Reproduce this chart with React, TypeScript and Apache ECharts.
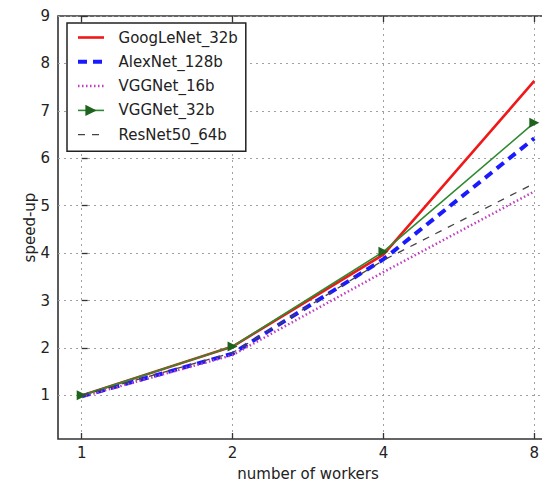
import React, { useEffect, useRef } from 'react';
import * as echarts from 'echarts';

const workers = [1, 2, 4, 8];
const yTicks = [1, 2, 3, 4, 5, 6, 7, 8, 9];
const seriesNames = ['GoogLeNet_32b', 'AlexNet_128b', 'VGGNet_16b', 'VGGNet_32b', 'ResNet50_64b'];
const googlenet32 = [1.0, 2.03, 3.97, 7.63];
const alexnet128 = [0.98, 1.88, 3.87, 6.42];
const vggnet16 = [0.97, 1.85, 3.6, 5.3];
const vggnet32 = [1.0, 2.03, 4.03, 6.75];
const resnet50 = [1.0, 1.9, 3.85, 5.47];

const FONT = 'DejaVu Sans';

export default function App() {
  const ref = useRef<HTMLDivElement>(null);
  useEffect(() => {
    if (!ref.current) return;
    const chart = echarts.init(ref.current, undefined, { renderer: 'svg' });
    const xs = workers.map((w) => Math.log2(w));
    const pts = (vals: number[]) => vals.map((v, i) => [xs[i], v]);
    const gridLine = { show: true, lineStyle: { color: '#a0a0a0', width: 1, type: [2, 4] as any } };
    const tick = { show: true, inside: true, length: 6, lineStyle: { color: '#333', width: 1.3 } };
    const xCommon = {
      type: 'value' as const,
      min: -0.157,
      max: 3.157,
      axisLine: { show: false },
    };
    const option: any = {
      animation: false,
      backgroundColor: '#ffffff',
      grid: {
        left: 58,
        top: 16,
        width: 500,
        height: 423,
        outerBoundsMode: 'none',
        containLabel: false,
        show: true,
        borderColor: '#333',
        borderWidth: 1.6,
        backgroundColor: 'transparent',
      },
      xAxis: [
        {
          ...xCommon,
          position: 'bottom',
          name: 'number of workers',
          nameLocation: 'middle',
          nameGap: 27,
          nameMoveOverlap: false,
          nameTextStyle: { fontFamily: FONT, fontSize: 15, color: '#222' },
          axisTick: { ...tick, customValues: xs },
          axisLabel: {
            customValues: xs,
            margin: 6,
            fontFamily: FONT,
            fontSize: 15,
            color: '#222',
            formatter: (v: number) => String(Math.round(Math.pow(2, v))),
          },
          splitLine: gridLine,
        },
        {
          ...xCommon,
          position: 'top',
          axisTick: { ...tick, customValues: xs },
          axisLabel: { show: false, customValues: xs },
          splitLine: { show: false },
        },
      ],
      yAxis: {
        type: 'value',
        min: 0.08,
        max: 9,
        name: 'speed-up',
        nameLocation: 'middle',
        nameGap: 21,
        nameMoveOverlap: false,
        nameRotate: 90,
        nameTextStyle: { fontFamily: FONT, fontSize: 15, color: '#222' },
        axisLine: { show: false },
        axisTick: { ...tick, customValues: yTicks },
        axisLabel: {
          customValues: yTicks,
          margin: 8,
          fontFamily: FONT,
          fontSize: 15,
          color: '#222',
        },
        splitLine: gridLine,
      },
      legend: {
        orient: 'vertical',
        left: 67,
        top: 23,
        padding: [7, 8, 9, 9],
        itemWidth: 26,
        itemHeight: 14,
        itemGap: 9.3,
        borderColor: '#222',
        borderWidth: 1.5,
        backgroundColor: '#ffffff',
        borderRadius: 0,
        data: seriesNames.map((n, i) =>
          i === 3 ? { name: n } : { name: n, itemStyle: { opacity: 0 } }
        ),
        formatter: (n: string) => '  ' + n,
        lineStyle: { width: 'inherit' },
        textStyle: { fontFamily: FONT, fontSize: 15, color: '#222', lineHeight: 14 },
      },
      series: [
        {
          type: 'line',
          name: seriesNames[0],
          data: pts(googlenet32),
          symbol: 'none',
          lineStyle: { color: '#f01818', width: 2.6 },
          itemStyle: { color: '#f01818' },
          emphasis: { disabled: true },
          z: 2,
        },
        {
          type: 'line',
          name: seriesNames[1],
          data: pts(alexnet128),
          symbol: 'none',
          lineStyle: { color: '#1a1aff', width: 4, type: [9, 6], cap: 'butt' },
          itemStyle: { color: '#1a1aff' },
          emphasis: { disabled: true },
          z: 3,
        },
        {
          type: 'line',
          name: seriesNames[2],
          data: pts(vggnet16),
          symbol: 'none',
          lineStyle: { color: '#c03cc0', width: 2.5, type: [1.5, 2.5], cap: 'butt' },
          itemStyle: { color: '#c03cc0' },
          emphasis: { disabled: true },
          z: 4,
        },
        {
          type: 'line',
          name: seriesNames[3],
          data: pts(vggnet32),
          symbol: 'triangle',
          symbolSize: 10,
          symbolRotate: -90,
          showSymbol: true,
          lineStyle: { color: '#2f8a2f', width: 1.6 },
          itemStyle: { color: '#1d621d' },
          emphasis: { disabled: true },
          z: 5,
        },
        {
          type: 'line',
          name: seriesNames[4],
          data: pts(resnet50),
          symbol: 'none',
          lineStyle: { color: '#444', width: 1.3, type: [7, 7], cap: 'butt' },
          itemStyle: { color: '#444' },
          emphasis: { disabled: true },
          z: 6,
        },
      ],
    };
    chart.setOption(option);
    return () => chart.dispose();
  }, []);
  return (
    <div
      ref={ref}
      style={{ position: 'fixed', left: 0, top: 0, width: 542, height: 483, background: '#fff' }}
    />
  );
}
